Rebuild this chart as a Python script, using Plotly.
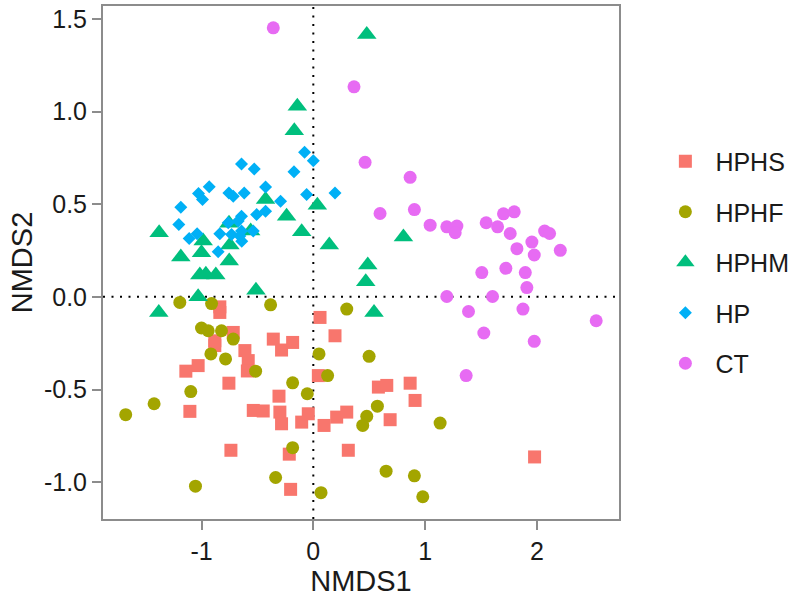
import plotly.graph_objects as go

groups = ["HPHS", "HPHF", "HPHM", "HP", "CT"]
colors = ["#F8766D", "#A3A500", "#00BF7D", "#00B0F6", "#E76BF3"]
symbols = ["square", "circle", "triangle-up", "diamond", "circle"]
sizes = [13, 13, 17, 10, 13]

hphs_x = [-0.836, -0.836, -0.716, -0.881, -0.881, 0.060, 0.194, -0.358, -0.284, -0.185,
          -0.612, -0.582, -0.590, -1.140, -1.030, 0.045, -0.755, -1.104, -0.307, -0.537,
          -0.448, -0.299, -0.284, -0.104, -0.045, 0.096, 0.209, 0.299, -0.737, -0.215,
          -0.203, 0.582, 0.657, 0.866, 0.910, 0.687, 0.313, 1.979]
hphs_y = [-0.054, -0.084, -0.192, -0.237, -0.263, -0.111, -0.210, -0.228, -0.287, -0.246,
          -0.290, -0.344, -0.400, -0.401, -0.371, -0.425, -0.466, -0.618, -0.536, -0.613,
          -0.616, -0.622, -0.685, -0.676, -0.631, -0.694, -0.649, -0.622, -0.828, -0.849,
          -1.039, -0.487, -0.478, -0.466, -0.559, -0.663, -0.828, -0.864]

hphf_x = [-1.194, -0.910, -0.382, 0.299, -1.000, -0.940, -0.821, -0.716, -0.916, -0.785,
          -0.516, 0.051, 0.128, -1.096, -1.424, -1.678, -0.185, -0.054, -0.185, -0.337,
          -1.054, 0.069, 0.499, 0.573, 0.478, 0.442, 1.134, 0.651, 0.904, 0.979]
hphf_y = [-0.030, -0.036, -0.043, -0.066, -0.168, -0.183, -0.183, -0.228, -0.308, -0.335,
          -0.401, -0.308, -0.425, -0.511, -0.577, -0.636, -0.464, -0.523, -0.814, -0.975,
          -1.022, -1.057, -0.321, -0.590, -0.645, -0.694, -0.681, -0.941, -0.966, -1.079]

hphm_x = [-0.143, -0.170, 0.478, -1.379, -0.427, -0.239, 0.036, -0.104, 0.143, -0.985,
          -1.000, -1.185, -0.752, -1.015, -0.961, -0.872, -0.746, -0.513, -1.030, -1.382,
          0.806, 0.487, 0.469, 0.543, -0.754, -0.560]
hphm_y = [1.029, 0.896, 1.416, 0.346, 0.525, 0.435, 0.495, 0.351, 0.280, 0.301,
          0.238, 0.215, 0.194, 0.118, 0.122, 0.118, 0.280, 0.036, 0.000, -0.084,
          0.323, 0.172, 0.081, -0.084, 0.398, 0.355]

hp_x = [-0.078, 0.000, -0.642, -0.528, -0.173, -0.931, -1.027, -0.991, -0.755, -0.716,
        -0.618, -0.427, -0.293, -0.060, 0.194, -1.185, -1.203, -1.110, -1.039, -0.642,
        -0.672, -0.507, -0.427, -0.761, -0.836, -0.731, -0.657, -0.642, -0.537, -0.851,
        -0.640]
hp_y = [0.781, 0.735, 0.717, 0.690, 0.676, 0.594, 0.558, 0.525, 0.561, 0.543,
        0.561, 0.593, 0.516, 0.552, 0.561, 0.484, 0.391, 0.315, 0.341, 0.435,
        0.409, 0.444, 0.462, 0.400, 0.341, 0.337, 0.328, 0.355, 0.355, 0.244,
        0.300]

ct_x = [-0.358, 0.364, 0.463, 0.866, 0.597, 0.904, 1.045, 1.194, 1.284, 1.269,
        1.546, 1.648, 1.701, 1.797, 1.761, 1.821, 1.955, 2.069, 2.113, 2.209,
        1.976, 1.507, 1.722, 1.896, 1.910, 1.194, 1.603, 1.388, 1.875, 1.525,
        1.976, 1.367, 2.530]
ct_y = [1.452, 1.134, 0.726, 0.645, 0.450, 0.471, 0.387, 0.378, 0.382, 0.346,
        0.400, 0.378, 0.448, 0.459, 0.342, 0.260, 0.296, 0.355, 0.342, 0.251,
        0.226, 0.131, 0.154, 0.131, 0.050, 0.002, 0.002, -0.079, -0.066, -0.195,
        -0.240, -0.425, -0.129]

xs = [hphs_x, hphf_x, hphm_x, hp_x, ct_x]
ys = [hphs_y, hphf_y, hphm_y, hp_y, ct_y]

x_ticks = [-1, 0, 1, 2]
x_ticklabels = ["-1", "0", "1", "2"]
y_ticks = [-1.0, -0.5, 0.0, 0.5, 1.0, 1.5]
y_ticklabels = ["-1.0", "-0.5", "0.0", "0.5", "1.0", "1.5"]

FONT = "Liberation Sans, Arial, sans-serif"

fig = go.Figure()
for g, c, s, sz, x, y in zip(groups, colors, symbols, sizes, xs, ys):
    fig.add_trace(go.Scatter(
        x=x, y=y, mode="markers", name=g, legendgroup=g,
        marker=dict(color=c, symbol=s, size=sz, line=dict(width=0)),
    ))

fig.add_shape(type="line", xref="x", yref="paper", x0=0, x1=0, y0=0, y1=1,
              line=dict(color="black", width=2, dash="2px,6.5px"), layer="below")
fig.add_shape(type="line", xref="paper", yref="y", x0=0, x1=1, y0=0, y1=0,
              line=dict(color="black", width=2, dash="2px,6.5px"), layer="below")

axis_common = dict(
    showgrid=False, zeroline=False, showline=True, mirror=True,
    linecolor="#8c8c8c", linewidth=2, ticks="outside", ticklen=9,
    tickcolor="#8c8c8c", tickwidth=2,
    tickfont=dict(family=FONT, size=25, color="#1a1a1a"),
)

fig.update_layout(
    width=800, height=608,
    paper_bgcolor="white", plot_bgcolor="white",
    margin=dict(l=103, r=181, t=4, b=89),
    font=dict(family=FONT, color="#1a1a1a"),
    xaxis=dict(range=[-1.881, 2.734], tickvals=x_ticks, ticktext=x_ticklabels,
               title=dict(text="NMDS1", font=dict(family=FONT, size=29), standoff=7),
               **axis_common),
    yaxis=dict(range=[-1.199, 1.570], tickvals=y_ticks, ticktext=y_ticklabels,
               title=dict(text="NMDS2", font=dict(family=FONT, size=29), standoff=3),
               **axis_common),
    legend=dict(x=1.0705, xanchor="left", y=0.50, yanchor="middle",
                font=dict(family=FONT, size=25, color="#1a1a1a"),
                tracegroupgap=15, itemwidth=50, bgcolor="rgba(0,0,0,0)"),
    showlegend=True,
)

fig.write_html(
    "out.html",
    config={"displayModeBar": False},
    post_script="document.body.style.margin='0';document.body.style.overflow='hidden';",
)
